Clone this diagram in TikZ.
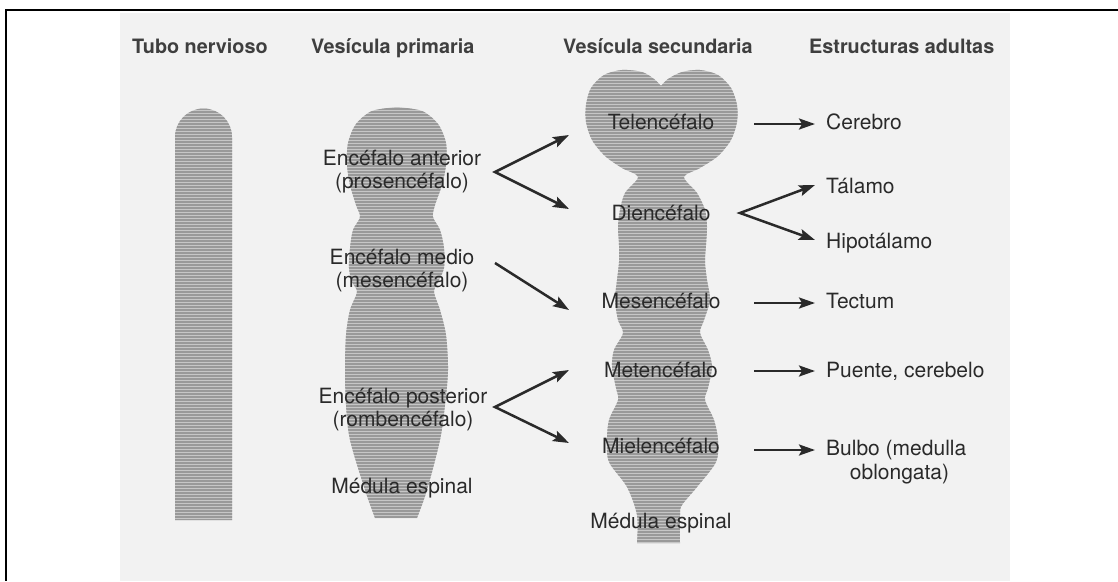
\documentclass[tikz,border=0pt]{standalone}
\usepackage{fontspec}
\setmainfont{TeX Gyre Heros}
\usetikzlibrary{arrows.meta}
\definecolor{page}{HTML}{F2F2F2}
\definecolor{ink}{HTML}{2A2A2A}
\definecolor{vesfill}{HTML}{C6C6C6}
\definecolor{vesline}{HTML}{999999}
\begin{document}
\begin{tikzpicture}[x=1pt,y=-1pt,
  lbl/.style={inner sep=0pt, anchor=base, text=ink, font=\fontsize{21}{24}\selectfont},
  lblw/.style={lbl, anchor=base west},
  head/.style={inner sep=0pt, anchor=base west, text=ink!90, font=\bfseries\fontsize{19.8}{22}\selectfont},
  arr/.style={draw=ink, line width=2.5pt, -{Stealth[length=16pt,width=11pt,inset=3pt]}},
  arrtwo/.style={draw=ink, line width=2.5pt, {Stealth[length=16pt,width=11pt,inset=3pt]}-{Stealth[length=16pt,width=11pt,inset=3pt]}},
  frameline/.style={draw=black, line width=2.5pt}]

\useasboundingbox (0,0) rectangle (1118,581);

% printed page and frame
\fill[page] (120,13) rectangle (1010,581);
\draw[frameline] (1118,10) -- (6,10) -- (6,581);

% neural tube, primary and secondary vesicles (striped fill)
\begin{scope}
  \clip
    % neural tube
    (175,520) -- (175,137) .. controls (175,121.3) and (187.8,108.5) .. (203.5,108.5)
      .. controls (219.2,108.5) and (232,121.3) .. (232,137) -- (232,520) -- cycle
    % primary vesicles
    plot[smooth] coordinates {(397,107) (422,111) (438,124) (446,143) (446,165) (442,185)
      (435,205) (433,217) (440,230) (444,248) (444,268) (438,282) (434,292) (440,310)
      (446,335) (448,370) (445,405) (440,440) (427,490) (417,518)}
    -- plot[smooth] coordinates {(375,518) (365,490) (350,440) (346,405) (345,370) (346,335)
      (350,310) (357,292) (352,282) (349,268) (350,248) (353,230) (360,217) (356,205)
      (350,185) (347,165) (348,143) (356,124) (372,111) (397,107)} -- cycle
    % secondary vesicles
    plot[smooth] coordinates {(661,86) (668,79) (682,72) (700,70) (718,75) (731,88)
      (737,105) (737,122) (731,140) (718,156) (700,168) (684,177) (697,193) (705,210)
      (707,227) (706,245) (705,262) (707,280) (710,300) (704,320) (700,333) (708,350)
      (712,367) (708,388) (705,400) (714,420) (718,440) (716,462) (697,487) (682,505)
      (680,515) (680,543)}
    -- plot[smooth] coordinates {(637,543) (637,515) (627,487) (609,462) (607,440) (609,420)
      (618,400) (616,388) (612,367) (614,350) (623,333) (618,320) (615,300) (617,280)
      (619,262) (619,245) (618,227) (620,210) (625,193) (638,177) (622,168) (605,156)
      (592,140) (586,122) (586,105) (591,88) (604,75) (622,70) (642,72) (654,79) (661,86)}
    -- cycle;
  \fill[vesfill] (150,60) rectangle (760,560);
  \foreach \yy in {61,64,...,559}
    \draw[vesline, line width=1.5pt] (150,\yy) -- (760,\yy);
\end{scope}

% column headings
\node[head] (hTubo) at (132,53) {Tubo nervioso};
\node[head] (hPrim) at (311,53) {Vesícula primaria};
\node[head] (hSec)  at (563,53) {Vesícula secundaria};
\node[head] (hAdu)  at (809,53) {Estructuras adultas};

% primary vesicles
\node[lbl] (pro1)  at (402,165) {Encéfalo anterior};
\node[lbl] (pro2)  at (402,188) {(prosencéfalo)};
\node[lbl] (mes1)  at (402,264) {Encéfalo medio};
\node[lbl] (mes2)  at (402,287) {(mesencéfalo)};
\node[lbl] (rom1)  at (403,403) {Encéfalo posterior};
\node[lbl] (rom2)  at (403,426) {(rombencéfalo)};
\node[lbl] (medP)  at (402,493) {Médula espinal};

% secondary vesicles
\node[lbl] (tel)   at (661,129) {Telencéfalo};
\node[lbl] (die)   at (661,220) {Diencéfalo};
\node[lbl] (mesS)  at (661,308) {Mesencéfalo};
\node[lbl] (met)   at (661,377) {Metencéfalo};
\node[lbl] (mie)   at (661,453) {Mielencéfalo};
\node[lbl] (medS)  at (661,528) {Médula espinal};

% adult structures
\node[lblw] (cer)  at (826,129) {Cerebro};
\node[lblw] (tal)  at (826,193) {Tálamo};
\node[lblw] (hip)  at (826,248) {Hipotálamo};
\node[lblw] (tec)  at (826,308) {Tectum};
\node[lblw] (pue)  at (826,377) {Puente, cerebelo};
\node[lblw] (bul1) at (826,455) {Bulbo (medulla};
\node[lbl]  (bul2) at (899.5,479) {oblongata)};

% connector end points
\coordinate (proApex) at (495,172);
\coordinate (inTel)   at (569,135);
\coordinate (inDie)   at (569,209);
\coordinate (mesOut)  at (495,263);
\coordinate (inMes)   at (569,310);
\coordinate (romApex) at (495,407);
\coordinate (inMet)   at (569,370);
\coordinate (inMie)   at (569,443);
\coordinate (telOut)  at (754,124);
\coordinate (inCer)   at (815,124);
\coordinate (dieApex) at (740,213);
\coordinate (inTal)   at (815,185);
\coordinate (inHip)   at (815,240);
\coordinate (mesSOut) at (754,303);
\coordinate (inTec)   at (815,303);
\coordinate (metOut)  at (754,371);
\coordinate (inPue)   at (815,371);
\coordinate (mieOut)  at (754,450);
\coordinate (inBul)   at (815,450);

% connectors
\draw[arrtwo] (inTel) -- (proApex) -- (inDie);
\draw[arr] (mesOut) -- (inMes);
\draw[arrtwo] (inMet) -- (romApex) -- (inMie);
\draw[arr] (telOut) -- (inCer);
\draw[arrtwo] (inTal) -- (dieApex) -- (inHip);
\draw[arr] (mesSOut) -- (inTec);
\draw[arr] (metOut) -- (inPue);
\draw[arr] (mieOut) -- (inBul);
\end{tikzpicture}
\end{document}
